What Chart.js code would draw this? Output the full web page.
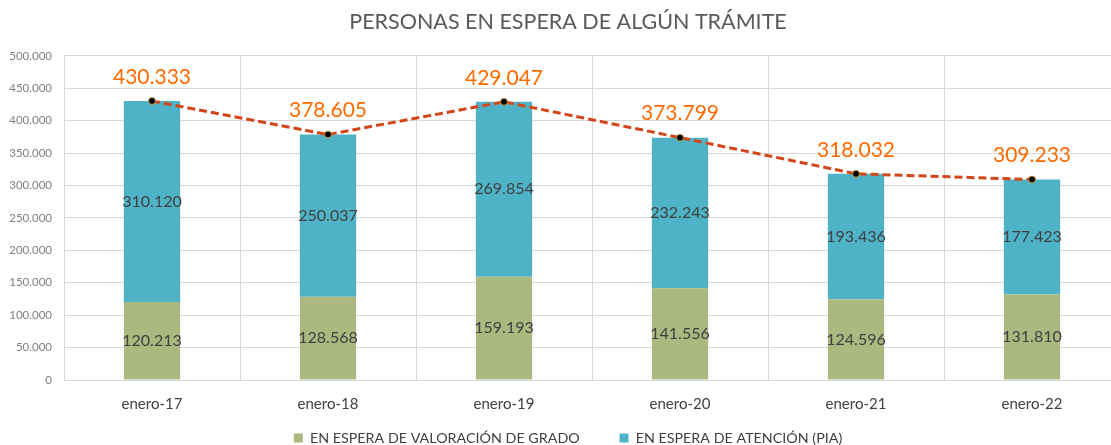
<!DOCTYPE html>
<html>
<head>
<meta charset="utf-8">
<script src="https://cdn.jsdelivr.net/npm/chart.js@4/dist/chart.umd.min.js"></script>
<style>
html, body { margin:0; padding:0; overflow:hidden; background:#fff; }
#wrap { width:1136px; height:445px; position:relative; }
</style>
</head>
<body>
<div id="wrap"><canvas id="c"></canvas></div>
<script>
const categories = ['enero-17','enero-18','enero-19','enero-20','enero-21','enero-22'];
const valoracion = [120213,128568,159193,141556,124596,131810];
const atencion   = [310120,250037,269854,232243,193436,177423];
const totales    = [430333,378605,429047,373799,318032,309233];
const seriesNames = ['EN ESPERA DE VALORACIÓN DE GRADO','EN ESPERA DE ATENCIÓN (PIA)','TOTAL'];
const titleText = 'PERSONAS EN ESPERA DE ALGÚN TRÁMITE';

const FONT = 'Lato';
function fmt(n){ return String(n).replace(/\B(?=(\d{3})+(?!\d))/g,'.'); }

const labelPlugin = {
  id:'valueLabels',
  afterDatasetsDraw(chart){
    const ctx = chart.ctx;
    ctx.save();
    ctx.textAlign = 'center';
    ctx.textBaseline = 'middle';
    chart.data.datasets.forEach((ds, di) => {
      const meta = chart.getDatasetMeta(di);
      meta.data.forEach((el, i) => {
        const v = ds.data[i];
        if (ds.type === 'line') {
          ctx.font = '21px ' + FONT;
          ctx.fillStyle = '#FF6A00';
          ctx.fillText(fmt(v), el.x, el.y - 24);
        } else {
          ctx.font = '16px ' + FONT;
          ctx.fillStyle = '#404040';
          ctx.fillText(fmt(v), el.x, (el.y + el.base) / 2);
        }
      });
    });
    ctx.restore();
  }
};

new Chart(document.getElementById('c'), {
  data: {
    labels: categories,
    datasets: [
      { type:'line', label:seriesNames[2], data:totales, stack:'total', order:0,
        borderColor:'#D2461A', borderWidth:3, borderDash:[8,4], fill:false, tension:0,
        pointRadius:3.5, pointBackgroundColor:'#000000', pointBorderColor:'#C8A050', pointBorderWidth:1 },
      { type:'bar', label:seriesNames[0], data:valoracion, stack:'bars', order:1,
        backgroundColor:'#A9B97F', categoryPercentage:1, barPercentage:0.32 },
      { type:'bar', label:seriesNames[1], data:atencion, stack:'bars', order:1,
        backgroundColor:'#4FB3C8', categoryPercentage:1, barPercentage:0.32 }
    ]
  },
  options: {
    responsive:true, maintainAspectRatio:false, animation:false,
    layout:{ padding:{ left:0, right:0, top:0, bottom:-10.15 } },
    plugins:{
      title:{ display:true, text:titleText, color:'#595959',
        font:{ family:FONT, size:21.5, weight:'normal' }, padding:{ top:9, bottom:21 } },
      legend:{ position:'bottom',
        labels:{ color:'#404040', font:{ family:FONT, size:14.3 }, boxWidth:9, boxHeight:9, padding:17.85,
          filter:(item) => item.datasetIndex !== 0,
          generateLabels:(chart) => {
            const items = Chart.defaults.plugins.legend.labels.generateLabels(chart);
            items.forEach((it) => { if (it.datasetIndex === 1) it.text = it.text + '      '; });
            return items;
          } } },
      tooltip:{ enabled:false }
    },
    scales:{
      x:{ stacked:true,
        grid:{ color:'#D9D9D9', offset:true, drawTicks:false },
        border:{ color:'#D9D9D9' },
        ticks:{ color:'#404040', font:{ family:FONT, size:15 }, padding:15 },
        afterFit:(s) => { s.height = 33; } },
      y:{ stacked:true, min:0, max:500000,
        grid:{ color:'#D9D9D9', drawTicks:false },
        border:{ display:false },
        ticks:{ stepSize:50000, color:'#808080', font:{ family:FONT, size:11.5 }, padding:12,
          callback:(v) => fmt(v) },
        afterFit:(s) => { s.width = 64; } },
      yR:{ position:'right', display:true, min:0, max:500000,
        grid:{ display:false }, border:{ display:false }, ticks:{ display:false },
        afterFit:(s) => { s.width = 16; } }
    }
  },
  plugins:[labelPlugin]
});
</script>
</body>
</html>
